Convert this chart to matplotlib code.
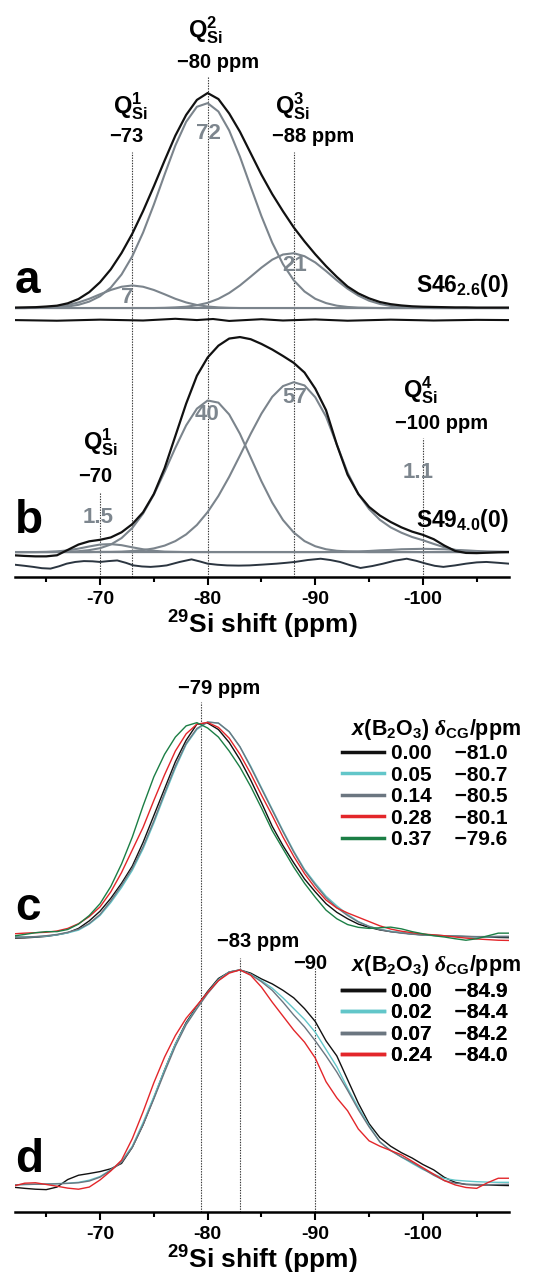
import matplotlib
matplotlib.use("Agg")
import matplotlib.pyplot as plt
from matplotlib.lines import Line2D

plt.rcParams['font.family'] = ['Liberation Sans', 'DejaVu Sans']
plt.rcParams['font.weight'] = 'bold'
plt.rcParams['mathtext.fontset'] = 'custom'
plt.rcParams['mathtext.rm'] = 'Liberation Sans:bold'
plt.rcParams['mathtext.bf'] = 'Liberation Sans:bold'
plt.rcParams['mathtext.sf'] = 'Liberation Sans:bold'
plt.rcParams['mathtext.it'] = 'Liberation Serif:italic'
plt.rcParams['mathtext.bfit'] = 'Liberation Sans:bold:italic'
plt.rcParams['mathtext.default'] = 'rm'

# chemical shift grid (ppm)
ppm = [-62, -63, -64, -65, -66, -67, -68, -69, -70, -71,
       -72, -73, -74, -75, -76, -77, -78, -79, -80, -81,
       -82, -83, -84, -85, -86, -87, -88, -89, -90, -91,
       -92, -93, -94, -95, -96, -97, -98, -99, -100, -101,
       -102, -103, -104, -105, -106, -107, -108]

# panel a: S46_2.6(0) spectrum and fit components
a_total = [0.002, 0.003, 0.004, 0.007, 0.011, 0.022, 0.042, 0.074, 0.120, 0.180,
           0.256, 0.346, 0.451, 0.566, 0.686, 0.802, 0.898, 0.968, 1.000, 0.972,
           0.905, 0.820, 0.720, 0.620, 0.530, 0.450, 0.375, 0.310, 0.250, 0.195,
           0.145, 0.100, 0.068, 0.045, 0.028, 0.018, 0.012, 0.008, 0.006, 0.005,
           0.004, 0.003, 0.003, 0.002, 0.002, 0.002, 0.002]
a_q1 = [0, 0, 0.001, 0.003, 0.007, 0.014, 0.026, 0.043, 0.064, 0.084,
        0.099, 0.105, 0.099, 0.084, 0.064, 0.043, 0.026, 0.014, 0.007, 0.003,
        0.001, 0, 0, 0, 0, 0, 0, 0, 0, 0,
        0, 0, 0, 0, 0, 0, 0, 0, 0, 0,
        0, 0, 0, 0, 0, 0, 0]
a_q2 = [0, 0, 0.001, 0.002, 0.003, 0.007, 0.015, 0.030, 0.055, 0.095,
        0.156, 0.241, 0.351, 0.481, 0.621, 0.756, 0.866, 0.936, 0.953, 0.914,
        0.826, 0.704, 0.564, 0.427, 0.304, 0.204, 0.129, 0.077, 0.043, 0.023,
        0.011, 0.005, 0.002, 0.001, 0, 0, 0, 0, 0, 0,
        0, 0, 0, 0, 0, 0, 0]
a_q3 = [0, 0, 0, 0, 0, 0, 0, 0, 0, 0,
        0, 0, 0, 0, 0.001, 0.003, 0.006, 0.013, 0.024, 0.043,
        0.070, 0.105, 0.146, 0.188, 0.225, 0.249, 0.255, 0.241, 0.212, 0.172,
        0.129, 0.090, 0.058, 0.034, 0.019, 0.010, 0.005, 0.002, 0.001, 0,
        0, 0, 0, 0, 0, 0, 0]
res_a_ppm = [-62, -66, -70, -74, -77, -79, -80.5, -82, -85, -87, -90, -93, -97, -101, -105, -108]
res_a = [0.0, -0.003, 0.002, -0.002, 0.006, 0.0, 0.005, -0.004, 0.004, -0.002,
         0.003, -0.003, 0.002, -0.002, 0.001, 0.0]

# panel b: S49_4.0(0)
b_total = [-0.015, -0.018, -0.020, -0.020, -0.015, 0.010, 0.035, 0.050, 0.057, 0.068,
           0.092, 0.130, 0.185, 0.270, 0.390, 0.540, 0.690, 0.820, 0.905, 0.960,
           0.993, 1.000, 0.990, 0.968, 0.942, 0.912, 0.880, 0.835, 0.760, 0.660,
           0.500, 0.360, 0.270, 0.210, 0.170, 0.140, 0.115, 0.095, 0.080, 0.060,
           0.030, 0.005, -0.004, -0.005, -0.003, -0.001, 0.000]
b_q1 = [0, 0, 0, 0.001, 0.003, 0.008, 0.016, 0.026, 0.035, 0.037,
        0.032, 0.022, 0.013, 0.006, 0.002, 0.001, 0, 0, 0, 0,
        0, 0, 0, 0, 0, 0, 0, 0, 0, 0,
        0, 0, 0, 0, 0, 0, 0, 0, 0, 0,
        0, 0, 0, 0, 0, 0, 0]
b_q2 = [0, 0, 0, 0, 0.001, 0.002, 0.004, 0.009, 0.018, 0.035,
        0.065, 0.112, 0.179, 0.267, 0.373, 0.485, 0.589, 0.667, 0.705, 0.695,
        0.640, 0.550, 0.440, 0.329, 0.230, 0.149, 0.091, 0.051, 0.027, 0.013,
        0.006, 0.003, 0.001, 0, 0, 0, 0, 0, 0, 0,
        0, 0, 0, 0, 0, 0, 0]
b_q3 = [0, 0, 0, 0, 0, 0, 0, 0, 0.001, 0.001,
        0.002, 0.005, 0.009, 0.017, 0.030, 0.051, 0.082, 0.126, 0.186, 0.261,
        0.350, 0.449, 0.550, 0.644, 0.722, 0.772, 0.790, 0.775, 0.720, 0.630,
        0.500, 0.370, 0.270, 0.200, 0.150, 0.115, 0.090, 0.070, 0.055, 0.038,
        0.022, 0.010, 0.004, 0.001, 0, 0, 0]
b_q4 = [0, 0, 0, 0, 0, 0, 0, 0, 0, 0,
        0, 0, 0, 0, 0, 0, 0, 0, 0, 0,
        0, 0, 0, 0, 0, 0, 0, 0, 0, 0,
        0.001, 0.002, 0.003, 0.005, 0.008, 0.010, 0.013, 0.014, 0.015, 0.014,
        0.013, 0.010, 0.008, 0.005, 0.003, 0.002, 0.001]
res_b_ppm = [-62.1, -63, -63.8, -64.6, -65.4, -66.2, -66.9, -67.7, -68.5, -69.3, -70, -70.8,
             -71.6, -72.4, -73.1, -73.9, -74.7, -75.5, -76.2, -77.4, -78.5, -79.3, -80, -80.9,
             -81.8, -82.9, -83.9, -85.2, -86.4, -87.3, -88.1, -89.3, -90.5, -91.4, -92.3, -93.3,
             -94.2, -95.3, -96.3, -97.4, -98.5, -99.4, -100.3, -101.1, -101.9, -103, -104,
             -105, -105.9, -107, -108]
res_b = [-0.005, -0.010, -0.015, -0.021, -0.023, -0.012, 0.000, 0.008, 0.012, 0.011, 0.008, 0.012,
         0.015, 0.004, -0.008, -0.013, -0.015, -0.012, -0.008, 0.008, 0.020, 0.010, 0.000, -0.005,
         -0.008, -0.009, -0.008, -0.004, 0.000, 0.004, 0.008, 0.017, 0.023, 0.017, 0.008, -0.008,
         -0.020, -0.011, 0.000, 0.014, 0.023, 0.013, 0.000, -0.010, -0.015, -0.008, 0.000,
         0.006, 0.008, 0.004, 0.000]

# panel c series, x(B2O3) = 0.00, 0.05, 0.14, 0.28, 0.37
c_x = ['0.00', '0.05', '0.14', '0.28', '0.37']
c_dcg = ['\u221281.0', '\u221280.7', '\u221280.5', '\u221280.1', '\u221279.6']
c_series = [
    [-0.005, -0.004, -0.001, 0.003, 0.010, 0.020, 0.040, 0.075, 0.120, 0.180,
     0.250, 0.330, 0.440, 0.565, 0.690, 0.815, 0.915, 0.990, 0.995, 0.965,
     0.905, 0.825, 0.730, 0.625, 0.515, 0.425, 0.345, 0.270, 0.210, 0.155,
     0.115, 0.085, 0.060, 0.045, 0.033, 0.025, 0.020, 0.014, 0.010, 0.008,
     0.006, 0.004, 0.002, 0.001, 0.000, -0.002, -0.003],
    [0.000, 0.000, 0.001, 0.004, 0.010, 0.019, 0.032, 0.060, 0.100, 0.160,
     0.230, 0.310, 0.410, 0.530, 0.660, 0.785, 0.895, 0.965, 1.000, 0.995,
     0.955, 0.885, 0.795, 0.695, 0.595, 0.495, 0.400, 0.315, 0.250, 0.190,
     0.145, 0.105, 0.072, 0.050, 0.036, 0.027, 0.020, 0.014, 0.010, 0.008,
     0.006, 0.004, 0.002, 0.001, 0.001, 0.002, 0.002],
    [0.000, 0.000, 0.002, 0.006, 0.012, 0.022, 0.036, 0.063, 0.105, 0.168,
     0.240, 0.320, 0.420, 0.540, 0.670, 0.795, 0.900, 0.970, 1.000, 0.995,
     0.955, 0.885, 0.790, 0.690, 0.590, 0.490, 0.395, 0.310, 0.243, 0.183,
     0.137, 0.100, 0.070, 0.049, 0.035, 0.025, 0.018, 0.013, 0.009, 0.007,
     0.005, 0.004, 0.003, 0.002, 0.002, 0.003, 0.003],
    [0.015, 0.018, 0.020, 0.022, 0.028, 0.040, 0.062, 0.095, 0.140, 0.210,
     0.300, 0.405, 0.510, 0.635, 0.755, 0.865, 0.945, 0.990, 0.998, 0.975,
     0.925, 0.850, 0.760, 0.660, 0.565, 0.465, 0.375, 0.295, 0.228, 0.172,
     0.135, 0.112, 0.092, 0.072, 0.052, 0.037, 0.027, 0.020, 0.014, 0.010,
     0.006, 0.000, -0.005, -0.009, -0.012, -0.015, -0.016],
    [0.005, 0.012, 0.020, 0.025, 0.025, 0.035, 0.060, 0.100, 0.155, 0.235,
     0.340, 0.465, 0.610, 0.745, 0.850, 0.930, 0.982, 0.997, 0.972, 0.930,
     0.865, 0.790, 0.700, 0.600, 0.495, 0.410, 0.325, 0.250, 0.185, 0.125,
     0.085, 0.058, 0.045, 0.040, 0.043, 0.046, 0.038, 0.025, 0.015, 0.006,
     0.000, -0.008, -0.015, -0.008, 0.005, 0.018, 0.018],
]

# panel d series, x(B2O3) = 0.00, 0.02, 0.07, 0.24
d_x = ['0.00', '0.02', '0.07', '0.24']
d_dcg = ['\u221284.9', '\u221284.4', '\u221284.2', '\u221284.0']
d_series = [
    [-0.011, -0.016, -0.020, -0.022, -0.010, 0.025, 0.045, 0.053, 0.062, 0.075,
     0.100, 0.175, 0.280, 0.405, 0.535, 0.655, 0.755, 0.830, 0.900, 0.960,
     0.990, 1.000, 0.985, 0.958, 0.935, 0.905, 0.870, 0.820, 0.760, 0.670,
     0.600, 0.490, 0.380, 0.285, 0.220, 0.180, 0.150, 0.125, 0.095, 0.070,
     0.035, 0.012, 0.002, 0.000, 0.000, -0.002, -0.003],
    [0.000, 0.002, 0.003, 0.004, 0.006, 0.008, 0.012, 0.022, 0.039, 0.070,
     0.110, 0.180, 0.290, 0.410, 0.535, 0.655, 0.750, 0.825, 0.895, 0.955,
     0.990, 1.000, 0.980, 0.950, 0.915, 0.870, 0.820, 0.770, 0.710, 0.630,
     0.550, 0.450, 0.360, 0.275, 0.200, 0.160, 0.130, 0.100, 0.072, 0.050,
     0.030, 0.022, 0.018, 0.015, 0.013, 0.012, 0.012],
    [0.000, 0.002, 0.003, 0.004, 0.005, 0.007, 0.010, 0.018, 0.036, 0.068,
     0.105, 0.175, 0.280, 0.400, 0.525, 0.645, 0.745, 0.820, 0.890, 0.950,
     0.990, 1.000, 0.978, 0.945, 0.905, 0.850, 0.790, 0.735, 0.670, 0.600,
     0.525, 0.440, 0.350, 0.270, 0.200, 0.160, 0.130, 0.105, 0.075, 0.045,
     0.020, 0.008, 0.003, 0.002, 0.001, 0.002, 0.003],
    [-0.005, 0.008, 0.010, 0.002, -0.006, -0.015, -0.020, -0.010, 0.023, 0.065,
     0.115, 0.215, 0.340, 0.475, 0.595, 0.695, 0.775, 0.835, 0.895, 0.950,
     0.985, 1.000, 0.975, 0.920, 0.850, 0.785, 0.720, 0.664, 0.590, 0.480,
     0.405, 0.345, 0.260, 0.205, 0.180, 0.160, 0.140, 0.110, 0.080, 0.050,
     0.020, 0.000, -0.012, -0.016, 0.010, 0.031, 0.031],
]

tick_pos = [-70, -80, -90, -100]
tick_lab = ['-70', '-80', '-90', '-100']
minor_pos = [-65, -75, -85, -95, -105]

BLACK = '#111111'
FITGRAY = '#7b848c'
LABGRAY = '#7d868e'
c_colors = [BLACK, '#62c6c9', '#6b7680', '#e3262a', '#1b7e45']
d_colors = [BLACK, '#62c6c9', '#6b7680', '#e3262a']
M = '\u2212'


def style_axis(ax, ytop):
    ax.set_xlim(-62.1, -108)
    ax.set_ylim(0, ytop)
    for s in ['left', 'right', 'top']:
        ax.spines[s].set_visible(False)
    ax.spines['bottom'].set_linewidth(1.8)
    ax.set_yticks([])
    ax.set_xticks(tick_pos)
    ax.set_xticklabels(tick_lab, fontsize=14, fontweight='bold')
    ax.set_xticks(minor_pos, minor=True)
    ax.tick_params(axis='x', which='major', direction='out', length=6, width=1.5, pad=4)
    ax.tick_params(axis='x', which='minor', direction='out', length=3.5, width=1.5)
    ax.set_xlabel(r'$^{29}$Si shift (ppm)', fontsize=19, fontweight='bold', labelpad=1)
    ax.patch.set_visible(False)


def shifted(vals, off):
    return [v + off for v in vals]


fig = plt.figure(figsize=(5.41, 12.85), dpi=100)
ax1 = fig.add_axes([15 / 541, 708 / 1285, 494 / 541, 577 / 1285])
ax2 = fig.add_axes([15 / 541, 73 / 1285, 494 / 541, 562 / 1285])
style_axis(ax1, 577 / 215)
style_axis(ax2, 562 / 215)

dot = dict(colors='#333333', linestyles=(0, (1.2, 1.2)), linewidth=0.8, zorder=1)

# ---------- top: a and b ----------
off_a, off_b = 1.251, 0.116
ax1.axhline(off_a, color=FITGRAY, lw=1.5, zorder=2)
ax1.axhline(off_b, color=FITGRAY, lw=1.5, zorder=2)
for comp in [a_q1, a_q2, a_q3]:
    ax1.plot(ppm, shifted(comp, off_a), color=FITGRAY, lw=1.5, zorder=3)
ax1.plot(ppm, shifted(a_total, off_a), color=BLACK, lw=1.6, zorder=4)
ax1.plot(res_a_ppm, shifted(res_a, 1.195), color=BLACK, lw=1.5, zorder=4)
for comp in [b_q1, b_q2, b_q3, b_q4]:
    ax1.plot(ppm, shifted(comp, off_b), color=FITGRAY, lw=1.5, zorder=3)
ax1.plot(ppm, shifted(b_total, off_b), color=BLACK, lw=1.6, zorder=4)
ax1.plot(res_b_ppm, shifted(res_b, 0.062), color='#2b3540', lw=1.4, zorder=4)

ax1.vlines([-73, -88], 0, 1.977, **dot)
ax1.vlines([-80], 0, 2.326, **dot)
ax1.vlines([-70], 0, 0.397, **dot)
ax1.vlines([-100], 0, 0.647, **dot)

qfs = 17
pfs = 14.5
ax1.text(-79.84, 2.544, r'Q$^{2}_{\mathrm{Si}}$', ha='center', va='center', fontsize=qfs)
ax1.text(-81.0, 2.391, M + '80 ppm', ha='center', va='center', fontsize=pfs)
ax1.text(-72.79, 2.188, r'Q$^{1}_{\mathrm{Si}}$', ha='center', va='center', fontsize=qfs)
ax1.text(-72.48, 2.048, M + '73', ha='center', va='center', fontsize=pfs)
ax1.text(-87.87, 2.188, r'Q$^{3}_{\mathrm{Si}}$', ha='center', va='center', fontsize=qfs)
ax1.text(-89.81, 2.047, M + '88 ppm', ha='center', va='center', fontsize=pfs)
ax1.text(-70.0, 0.628, r'Q$^{1}_{\mathrm{Si}}$', ha='center', va='center', fontsize=qfs)
ax1.text(-69.54, 0.466, M + '70', ha='center', va='center', fontsize=pfs)
ax1.text(-99.8, 0.870, r'Q$^{4}_{\mathrm{Si}}$', ha='center', va='center', fontsize=qfs)
ax1.text(-101.7, 0.715, M + '100 ppm', ha='center', va='center', fontsize=pfs)

for xv, yv, s in [(-72.5, 1.298, '7'), (-80.03, 2.065, '72'), (-88.1, 1.451, '21'),
                  (-79.94, 0.758, '40'), (-88.1, 0.837, '57'), (-69.8, 0.279, '1.5'),
                  (-99.6, 0.484, '1.1')]:
    ax1.text(xv, yv, s, ha='center', va='center', fontsize=16, color=LABGRAY, zorder=5)

ytr1 = ax1.get_yaxis_transform()
ax1.text(0.0, 1.321, 'a', transform=ytr1, fontsize=33, ha='left', va='baseline')
ax1.text(0.0, 0.205, 'b', transform=ytr1, fontsize=33, ha='left', va='baseline')
ax1.text(1.0, 1.326, r'S46$_{2.6}$(0)', transform=ytr1, fontsize=16.5, ha='right', va='baseline')
ax1.text(1.0, 0.233, r'S49$_{4.0}$(0)', transform=ytr1, fontsize=16.5, ha='right', va='baseline')

# ---------- bottom: c and d ----------
off_c, off_d = 1.279, 0.126
for vals, col in zip(c_series, c_colors):
    ax2.plot(ppm, shifted(vals, off_c), color=col, lw=1.0, zorder=3)
for vals, col in zip(d_series, d_colors):
    ax2.plot(ppm, shifted(vals, off_d), color=col, lw=1.0, zorder=3)

ax2.vlines([-79.4], 0, 2.372, **dot)
ax2.vlines([-83], 0, 1.181, **dot)
ax2.vlines([-90], 0, 1.135, **dot)
ax2.text(-81.03, 2.437, M + '79 ppm', ha='center', va='center', fontsize=pfs)
ax2.text(-84.67, 1.257, M + '83 ppm', ha='center', va='center', fontsize=pfs)
ax2.text(-89.5, 1.158, M + '90', ha='center', va='center', fontsize=pfs)

ytr2 = ax2.get_yaxis_transform()
ax2.text(0.0, 1.358, 'c', transform=ytr2, fontsize=33, ha='left', va='baseline')
ax2.text(0.0, 0.186, 'd', transform=ytr2, fontsize=33, ha='left', va='baseline')

header = r'$\mathbfit{x}$(B$_2$O$_3$) $\mathit{\delta}_{\mathrm{CG}}$/ppm'
for xs, ds, cols, hy, ly in [(c_x, c_dcg, c_colors, 0.8577, 0.8327),
                             (d_x, d_dcg, d_colors, 0.4395, 0.4093)]:
    ax2.text(0.852, hy, header, transform=ax2.transAxes, ha='center', va='center', fontsize=15.5)
    handles = [Line2D([], [], color=c, lw=2.5) for c in cols]
    labels = [f'{x}    {d}' for x, d in zip(xs, ds)]
    leg = ax2.legend(handles, labels, loc='upper left', bbox_to_anchor=(0.662, ly),
                     frameon=False, borderpad=0, borderaxespad=0, handlelength=2.0,
                     handletextpad=0.35, labelspacing=0.12,
                     prop={'size': 15, 'weight': 'bold'})
    ax2.add_artist(leg)

fig.savefig('out.png', dpi=100)
